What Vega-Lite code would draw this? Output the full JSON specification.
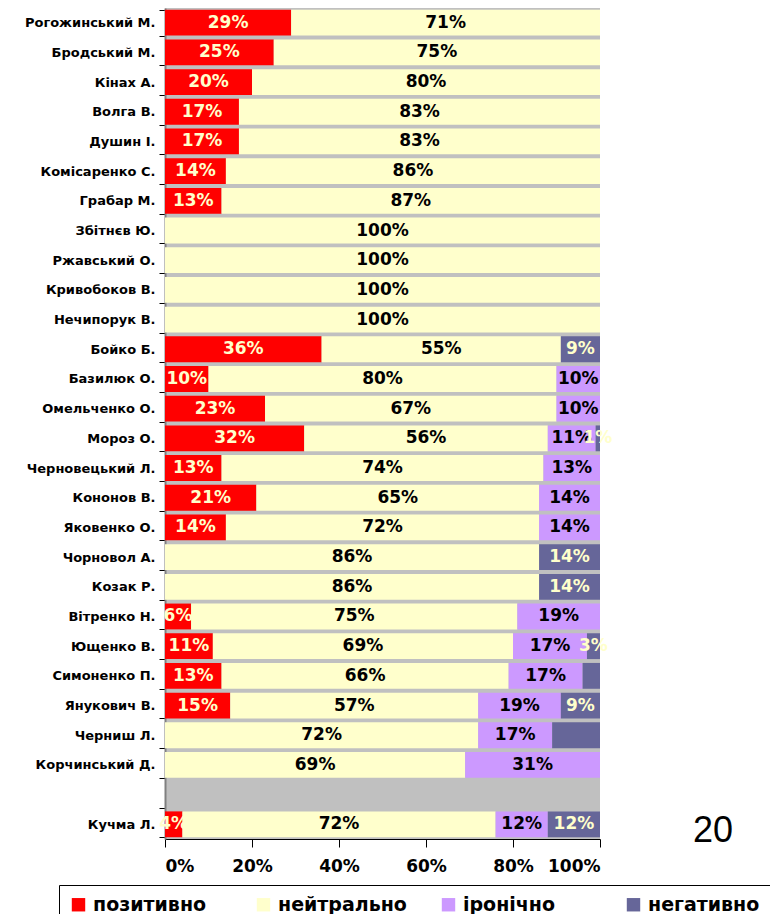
{
  "$schema": "https://vega.github.io/schema/vega-lite/v6.json",
  "width": 435,
  "height": 831,
  "padding": {"left": 24, "top": 2, "right": 0, "bottom": 0},
  "background": "white",
  "config": {
    "view": {"fill": "#C0C0C0", "stroke": null},
    "axis": {"labelFont": "DejaVu Sans", "labelFontWeight": "bold", "labelColor": "black", "title": null, "grid": false}
  },
  "datasets": {
    "main": [
      {"n": "Рогожинський М.", "c": "позитивно", "v": 29, "o": 1, "l": "29%"},
      {"n": "Рогожинський М.", "c": "нейтрально", "v": 71, "o": 2, "l": "71%"},
      {"n": "Бродський М.", "c": "позитивно", "v": 25, "o": 1, "l": "25%"},
      {"n": "Бродський М.", "c": "нейтрально", "v": 75, "o": 2, "l": "75%"},
      {"n": "Кінах А.", "c": "позитивно", "v": 20, "o": 1, "l": "20%"},
      {"n": "Кінах А.", "c": "нейтрально", "v": 80, "o": 2, "l": "80%"},
      {"n": "Волга В.", "c": "позитивно", "v": 17, "o": 1, "l": "17%"},
      {"n": "Волга В.", "c": "нейтрально", "v": 83, "o": 2, "l": "83%"},
      {"n": "Душин І.", "c": "позитивно", "v": 17, "o": 1, "l": "17%"},
      {"n": "Душин І.", "c": "нейтрально", "v": 83, "o": 2, "l": "83%"},
      {"n": "Комісаренко С.", "c": "позитивно", "v": 14, "o": 1, "l": "14%"},
      {"n": "Комісаренко С.", "c": "нейтрально", "v": 86, "o": 2, "l": "86%"},
      {"n": "Грабар М.", "c": "позитивно", "v": 13, "o": 1, "l": "13%"},
      {"n": "Грабар М.", "c": "нейтрально", "v": 87, "o": 2, "l": "87%"},
      {"n": "Збітнєв Ю.", "c": "нейтрально", "v": 100, "o": 2, "l": "100%"},
      {"n": "Ржавський О.", "c": "нейтрально", "v": 100, "o": 2, "l": "100%"},
      {"n": "Кривобоков В.", "c": "нейтрально", "v": 100, "o": 2, "l": "100%"},
      {"n": "Нечипорук В.", "c": "нейтрально", "v": 100, "o": 2, "l": "100%"},
      {"n": "Бойко Б.", "c": "позитивно", "v": 36, "o": 1, "l": "36%"},
      {"n": "Бойко Б.", "c": "нейтрально", "v": 55, "o": 2, "l": "55%"},
      {"n": "Бойко Б.", "c": "негативно", "v": 9, "o": 4, "l": "9%"},
      {"n": "Базилюк О.", "c": "позитивно", "v": 10, "o": 1, "l": "10%"},
      {"n": "Базилюк О.", "c": "нейтрально", "v": 80, "o": 2, "l": "80%"},
      {"n": "Базилюк О.", "c": "іронічно", "v": 10, "o": 3, "l": "10%"},
      {"n": "Омельченко О.", "c": "позитивно", "v": 23, "o": 1, "l": "23%"},
      {"n": "Омельченко О.", "c": "нейтрально", "v": 67, "o": 2, "l": "67%"},
      {"n": "Омельченко О.", "c": "іронічно", "v": 10, "o": 3, "l": "10%"},
      {"n": "Мороз О.", "c": "позитивно", "v": 32, "o": 1, "l": "32%"},
      {"n": "Мороз О.", "c": "нейтрально", "v": 56, "o": 2, "l": "56%"},
      {"n": "Мороз О.", "c": "іронічно", "v": 11, "o": 3, "l": "11%"},
      {"n": "Мороз О.", "c": "негативно", "v": 1, "o": 4, "l": "1%"},
      {"n": "Черновецький Л.", "c": "позитивно", "v": 13, "o": 1, "l": "13%"},
      {"n": "Черновецький Л.", "c": "нейтрально", "v": 74, "o": 2, "l": "74%"},
      {"n": "Черновецький Л.", "c": "іронічно", "v": 13, "o": 3, "l": "13%"},
      {"n": "Кононов В.", "c": "позитивно", "v": 21, "o": 1, "l": "21%"},
      {"n": "Кононов В.", "c": "нейтрально", "v": 65, "o": 2, "l": "65%"},
      {"n": "Кононов В.", "c": "іронічно", "v": 14, "o": 3, "l": "14%"},
      {"n": "Яковенко О.", "c": "позитивно", "v": 14, "o": 1, "l": "14%"},
      {"n": "Яковенко О.", "c": "нейтрально", "v": 72, "o": 2, "l": "72%"},
      {"n": "Яковенко О.", "c": "іронічно", "v": 14, "o": 3, "l": "14%"},
      {"n": "Чорновол А.", "c": "нейтрально", "v": 86, "o": 2, "l": "86%"},
      {"n": "Чорновол А.", "c": "негативно", "v": 14, "o": 4, "l": "14%"},
      {"n": "Козак Р.", "c": "нейтрально", "v": 86, "o": 2, "l": "86%"},
      {"n": "Козак Р.", "c": "негативно", "v": 14, "o": 4, "l": "14%"},
      {"n": "Вітренко Н.", "c": "позитивно", "v": 6, "o": 1, "l": "6%"},
      {"n": "Вітренко Н.", "c": "нейтрально", "v": 75, "o": 2, "l": "75%"},
      {"n": "Вітренко Н.", "c": "іронічно", "v": 19, "o": 3, "l": "19%"},
      {"n": "Ющенко В.", "c": "позитивно", "v": 11, "o": 1, "l": "11%"},
      {"n": "Ющенко В.", "c": "нейтрально", "v": 69, "o": 2, "l": "69%"},
      {"n": "Ющенко В.", "c": "іронічно", "v": 17, "o": 3, "l": "17%"},
      {"n": "Ющенко В.", "c": "негативно", "v": 3, "o": 4, "l": "3%"},
      {"n": "Симоненко П.", "c": "позитивно", "v": 13, "o": 1, "l": "13%"},
      {"n": "Симоненко П.", "c": "нейтрально", "v": 66, "o": 2, "l": "66%"},
      {"n": "Симоненко П.", "c": "іронічно", "v": 17, "o": 3, "l": "17%"},
      {"n": "Симоненко П.", "c": "негативно", "v": 4, "o": 4, "l": ""},
      {"n": "Янукович В.", "c": "позитивно", "v": 15, "o": 1, "l": "15%"},
      {"n": "Янукович В.", "c": "нейтрально", "v": 57, "o": 2, "l": "57%"},
      {"n": "Янукович В.", "c": "іронічно", "v": 19, "o": 3, "l": "19%"},
      {"n": "Янукович В.", "c": "негативно", "v": 9, "o": 4, "l": "9%"},
      {"n": "Черниш Л.", "c": "нейтрально", "v": 72, "o": 2, "l": "72%"},
      {"n": "Черниш Л.", "c": "іронічно", "v": 17, "o": 3, "l": "17%"},
      {"n": "Черниш Л.", "c": "негативно", "v": 11, "o": 4, "l": ""},
      {"n": "Корчинський Д.", "c": "нейтрально", "v": 69, "o": 2, "l": "69%"},
      {"n": "Корчинський Д.", "c": "іронічно", "v": 31, "o": 3, "l": "31%"},
      {"n": "Кучма Л.", "c": "позитивно", "v": 4, "o": 1, "l": "4%"},
      {"n": "Кучма Л.", "c": "нейтрально", "v": 72, "o": 2, "l": "72%"},
      {"n": "Кучма Л.", "c": "іронічно", "v": 12, "o": 3, "l": "12%"},
      {"n": "Кучма Л.", "c": "негативно", "v": 12, "o": 4, "l": "12%"}
    ],
    "page": [{"n": "Кучма Л.", "v": 126, "t": "20"}]
  },
  "data": {"name": "main"},
  "transform": [
    {"stack": "v", "groupby": ["n"], "sort": [{"field": "o", "order": "ascending"}], "as": ["x0", "x1"]},
    {"calculate": "(datum.x0 + datum.x1) / 2", "as": "xm"}
  ],
  "encoding": {
    "y": {
      "field": "n",
      "type": "nominal",
      "scale": {
        "domain": ["Рогожинський М.", "Бродський М.", "Кінах А.", "Волга В.", "Душин І.", "Комісаренко С.", "Грабар М.", "Збітнєв Ю.", "Ржавський О.", "Кривобоков В.", "Нечипорук В.", "Бойко Б.", "Базилюк О.", "Омельченко О.", "Мороз О.", "Черновецький Л.", "Кононов В.", "Яковенко О.", "Чорновол А.", "Козак Р.", "Вітренко Н.", "Ющенко В.", "Симоненко П.", "Янукович В.", "Черниш Л.", "Корчинський Д.", " ", "Кучма Л."],
        "paddingInner": 0.13,
        "paddingOuter": 0.06
      },
      "axis": {
        "tickBand": "extent",
        "labelFontSize": 13,
        "tickSize": 6,
        "tickColor": "black",
        "domainColor": "#808080",
        "domainWidth": 2,
        "labelPadding": 4
      }
    }
  },
  "layer": [
    {
      "mark": {"type": "bar"},
      "encoding": {
        "x": {
          "field": "x0",
          "type": "quantitative",
          "scale": {"domain": [0, 100], "nice": false},
          "axis": {
            "values": [0, 20, 40, 60, 80, 100],
            "labelExpr": "datum.value + '%'",
            "labelFontSize": 17,
            "tickSize": 8,
            "tickColor": "black",
            "domainColor": "black",
            "labelPadding": 11
          }
        },
        "x2": {"field": "x1"},
        "color": {
          "field": "c",
          "type": "nominal",
          "scale": {
            "domain": ["позитивно", "нейтрально", "іронічно", "негативно"],
            "range": ["#FF0000", "#FFFFCC", "#CC99FF", "#666699"]
          },
          "legend": {
            "title": null,
            "orient": "none",
            "legendX": -106,
            "legendY": 877,
            "direction": "horizontal",
            "columns": 4,
            "gridAlign": "all",
            "columnPadding": 32,
            "symbolType": "square",
            "symbolSize": 180,
            "symbolStrokeWidth": 0,
            "labelFont": "DejaVu Sans",
            "labelFontWeight": "bold",
            "labelFontSize": 19,
            "labelColor": "black",
            "labelOffset": 5,
            "strokeColor": "black",
            "padding": 10
          }
        }
      }
    },
    {
      "mark": {"type": "text", "font": "DejaVu Sans", "fontWeight": "bold", "fontSize": 17, "baseline": "middle", "align": "center"},
      "encoding": {
        "x": {"field": "xm", "type": "quantitative"},
        "text": {"field": "l"},
        "color": {
          "condition": {"test": "datum.c === 'позитивно' || datum.c === 'негативно'", "value": "#FFFFCC"},
          "value": "black"
        }
      }
    },
    {
      "data": {"name": "page"},
      "mark": {"type": "text", "font": "Liberation Sans", "fontSize": 36, "baseline": "middle", "align": "center", "dy": 7},
      "encoding": {
        "x": {"field": "v", "type": "quantitative"},
        "y": {"field": "n", "type": "nominal"},
        "text": {"field": "t"},
        "color": {"value": "black"}
      }
    }
  ]
}
